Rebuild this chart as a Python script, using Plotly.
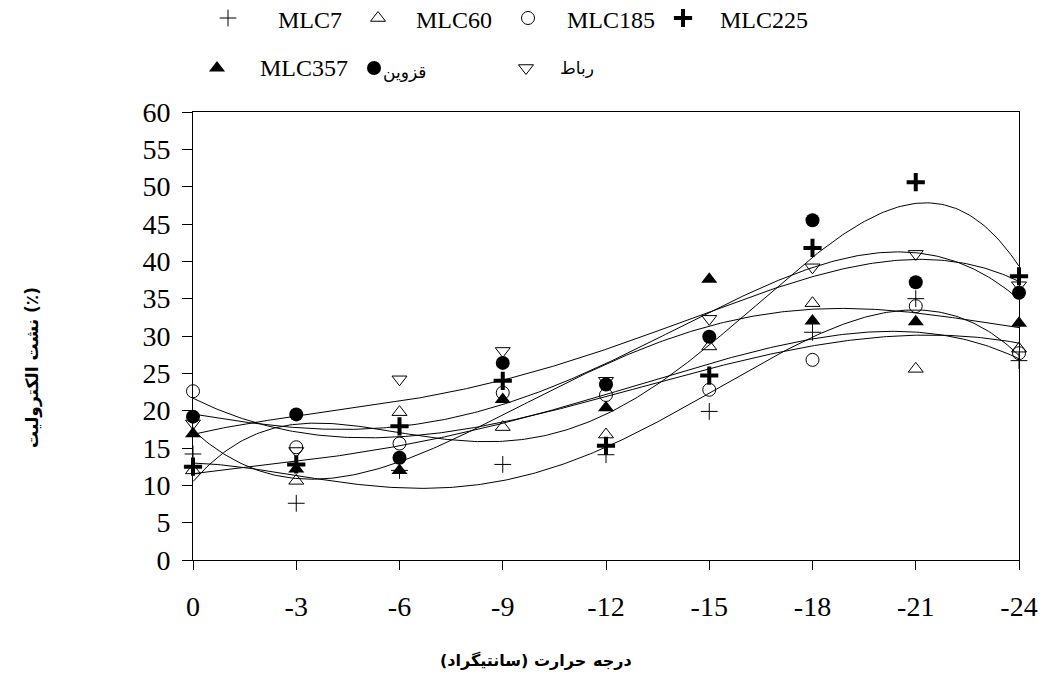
import numpy as np
import plotly.graph_objects as go

temps = [0, -3, -6, -9, -12, -15, -18, -21, -24]
tick_labels = ["0", "-3", "-6", "-9", "-12", "-15", "-18", "-21", "-24"]

names = ["MLC7", "MLC60", "MLC185", "MLC225", "MLC357", "قزوین", "رباط"]
mlc7 = [14.2, 7.6, 12.0, 12.8, 14.1, 19.9, 30.5, 35.0, 26.7]
mlc60 = [12.0, 10.6, 19.8, 17.8, 16.8, 28.6, 34.4, 25.6, 28.3]
mlc185 = [22.6, 15.1, 15.6, 22.4, 22.1, 22.8, 26.8, 34.0, 27.7]
mlc225 = [12.5, 12.8, 17.9, 24.0, 15.3, 24.7, 41.8, 50.6, 38.0]
mlc357 = [16.9, 12.2, 12.0, 21.5, 20.4, 37.6, 32.0, 31.9, 31.7]
qazvin = [19.2, 19.5, 13.7, 26.4, 23.5, 29.9, 45.5, 37.2, 35.8]
rabat = [18.3, 14.6, 24.2, 28.0, 24.0, 32.3, 39.2, 41.0, 36.8]
series = [mlc7, mlc60, mlc185, mlc225, mlc357, qazvin, rabat]

y_title = "نشت الكتروليت (٪)"
x_title_words = ["درجه", "حرارت", "(سانتیگراد)"]

POLY_ORDER = 4

markers = [
    dict(symbol="cross-thin-open", size=12, color="black", line=dict(color="black", width=1)),
    dict(symbol="triangle-up-open", size=13, color="black", line=dict(color="black", width=1)),
    dict(symbol="circle-open", size=13, color="black", line=dict(color="black", width=1)),
    dict(symbol="cross-thin-open", size=13, color="black", line=dict(color="black", width=4)),
    dict(symbol="triangle-up", size=14, color="black", line=dict(color="black", width=0)),
    dict(symbol="circle", size=14, color="black", line=dict(color="black", width=0)),
    dict(symbol="triangle-down-open", size=13, color="black", line=dict(color="black", width=1)),
]

W, H = 1041, 689
# plot-area edges in pixels
L, R, T, B = 193, 1019, 112, 560

fig = go.Figure()

idx = np.arange(len(temps))
fine = np.linspace(0, len(temps) - 1, 300)
step = temps[1] - temps[0]
for vals in series:
    coef = np.polyfit(idx, vals, POLY_ORDER)
    yfit = np.polyval(coef, fine)
    fig.add_trace(go.Scatter(x=temps[0] + fine * step, y=yfit, mode="lines",
                             line=dict(color="black", width=1), showlegend=False,
                             hoverinfo="skip", cliponaxis=False))

for name, vals, m in zip(names, series, markers):
    fig.add_trace(go.Scatter(x=temps, y=vals, mode="markers", name=name, marker=m,
                             showlegend=False, cliponaxis=False))

# manual legend on a full-figure pixel axis
leg_marker_pos = [(228, 18), (378, 18), (528, 18), (683, 18), (217, 68), (374, 68), (526, 68)]
leg_text_pos = [(276, 20), (414, 20), (565, 20), (718, 20), (258, 68), (381, 72), (558, 68)]
for m, (mx, my) in zip(markers, leg_marker_pos):
    fig.add_trace(go.Scatter(x=[mx], y=[my], xaxis="x2", yaxis="y2", mode="markers",
                             marker=m, showlegend=False, cliponaxis=False, hoverinfo="skip"))

annotations = []
for name, (tx, ty) in zip(names, leg_text_pos):
    is_ar = not name.startswith("MLC")
    annotations.append(dict(x=tx / W, y=1 - ty / H, xref="paper", yref="paper",
                            text=name, showarrow=False, xanchor="left", yanchor="middle",
                            font=dict(family="DejaVu Sans" if is_ar else "Liberation Serif",
                                      size=17 if is_ar else 24, color="black")))

annotations.append(dict(x=32 / W, y=1 - 368 / H, xref="paper", yref="paper",
                        text="<b>" + y_title + "</b>", textangle=-90, showarrow=False,
                        xanchor="center", yanchor="middle",
                        font=dict(family="DejaVu Sans", size=17, color="black")))

# x-axis title laid out right to left (first word at the right)
x_word_pos = [(591, "left"), (560, "center"), (530, "right")]
for word, (wx, anc) in zip(x_title_words, x_word_pos):
    annotations.append(dict(x=wx / W, y=1 - 660 / H, xref="paper", yref="paper",
                            text="<b>" + word + "</b>", showarrow=False,
                            xanchor=anc, yanchor="middle",
                            font=dict(family="DejaVu Sans", size=16, color="black")))

fig.update_layout(
    width=W, height=H,
    margin=dict(l=0, r=0, t=0, b=0, pad=0, autoexpand=False),
    paper_bgcolor="white", plot_bgcolor="rgba(0,0,0,0)",
    font=dict(family="Liberation Serif", size=28, color="black"),
    xaxis=dict(domain=[L / W, R / W], range=[0, -24], tickvals=temps, ticktext=tick_labels,
               showgrid=False, zeroline=False, showline=True, linecolor="black", linewidth=1,
               mirror=True, ticks="outside", ticklen=9, tickcolor="black", ticklabelstandoff=12),
    yaxis=dict(domain=[1 - B / H, 1 - T / H], range=[0, 60], tickvals=list(range(0, 61, 5)),
               showgrid=False, zeroline=False, showline=True, linecolor="black", linewidth=1,
               mirror=True, ticks="outside", ticklen=10, tickcolor="black", ticklabelstandoff=6),
    xaxis2=dict(domain=[0, 1], range=[0, W], anchor="y2", visible=False, fixedrange=True),
    yaxis2=dict(domain=[0, 1], range=[H, 0], anchor="x2", visible=False, fixedrange=True),
    annotations=annotations,
    showlegend=False,
)

fig.write_html("out.html")
